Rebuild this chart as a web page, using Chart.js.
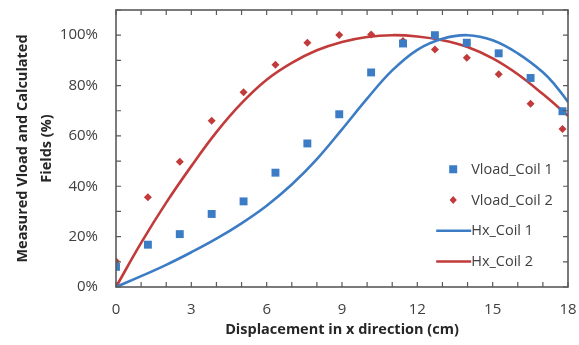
<!DOCTYPE html>
<html>
<head>
<meta charset="utf-8">
<script src="https://cdn.jsdelivr.net/npm/chart.js@4/dist/chart.umd.min.js"></script>
<style>
html,body{margin:0;padding:0;background:#fff;}
#wrap{width:579px;height:345px;position:relative;}
</style>
</head>
<body>
<div id="wrap"><canvas id="c" width="579" height="345"></canvas></div>
<script>
// ---- data ----
const xMeasured = [0, 1.27, 2.54, 3.81, 5.08, 6.35, 7.62, 8.89, 10.16, 11.43, 12.7, 13.97, 15.24, 16.51, 17.78];
const vloadCoil1 = [8, 16.8, 21, 29, 34, 45.4, 57, 68.6, 85.2, 96.7, 100, 97, 92.8, 83, 69.8];
const vloadCoil2 = [10.2, 35.6, 49.7, 66, 77.3, 88.3, 97, 100.1, 100.3, 97.7, 94.3, 91, 84.5, 72.8, 62.7];
const xCalc1 = [0, 1, 2, 3, 4, 5, 6, 7, 8, 9, 10, 11, 12, 13, 14, 15, 16, 17, 17.5, 18];
const hxCoil1 = [0, 4.3, 8.8, 13.8, 19.2, 25.3, 32.3, 40.7, 50.8, 62.6, 74.8, 86, 94.2, 98.6, 100, 98, 92.8, 85.3, 80, 73.5];
const xCalc2 = [0, 1, 2, 3, 4, 5, 6, 7, 8, 9, 10, 11, 12, 13, 14, 15, 16, 17, 18];
const hxCoil2 = [0, 17.5, 33.5, 48, 61.5, 73, 82.3, 89, 94, 97.3, 99.3, 100, 99.5, 98, 95.3, 90.8, 84.5, 76.6, 68];
const seriesNames = ['Vload_Coil 1', 'Vload_Coil 2', 'Hx_Coil 1', 'Hx_Coil 2'];
const xTitle = 'Displacement in x direction (cm)';
const yTitle = ['Measured Vload and Calculated', 'Fields (%)'];

const BLUE = '#3c7cc4';
const RED = '#c23b3b';
const TXT = '#404040';
const FONT = "'Open Sans', 'DejaVu Sans', sans-serif";

const pts = (xs, ys) => xs.map((x, i) => ({x: x, y: ys[i]}));

const frame = {
  id: 'frame',
  afterDatasetsDraw(chart) {
    const {ctx, chartArea: a, scales} = chart;
    ctx.save();
    ctx.strokeStyle = '#5a5a5a';
    ctx.lineWidth = 1.6;
    ctx.strokeRect(a.left, a.top, a.right - a.left, a.bottom - a.top);
    ctx.lineWidth = 1.2;
    const tl = 5;
    ctx.beginPath();
    scales.x.ticks.forEach(t => {
      const px = scales.x.getPixelForValue(t.value);
      ctx.moveTo(px, a.bottom); ctx.lineTo(px, a.bottom - tl);
      ctx.moveTo(px, a.top); ctx.lineTo(px, a.top + tl);
    });
    scales.y.ticks.forEach(t => {
      const py = scales.y.getPixelForValue(t.value);
      ctx.moveTo(a.left, py); ctx.lineTo(a.left + tl, py);
      ctx.moveTo(a.right, py); ctx.lineTo(a.right - tl, py);
    });
    ctx.stroke();

    // legend
    const ds = chart.data.datasets;
    const lx = a.left + (a.right - a.left) * 0.746;
    const tx = lx + 18;
    const y0 = a.top + (a.bottom - a.top) * 0.575;
    const dy = 30.7;
    ctx.font = "14.5px " + FONT;
    ctx.textBaseline = 'middle';
    ctx.textAlign = 'left';
    ds.forEach((d, i) => {
      const y = y0 + i * dy;
      if (d.showLine === false) {
        ctx.fillStyle = d.backgroundColor;
        if (d.pointStyle === 'rect') {
          ctx.fillRect(lx - 4, y - 4, 8, 8);
        } else {
          ctx.beginPath();
          ctx.moveTo(lx, y - 4); ctx.lineTo(lx + 3.6, y); ctx.lineTo(lx, y + 4); ctx.lineTo(lx - 3.6, y); ctx.closePath();
          ctx.fill();
        }
      } else {
        ctx.strokeStyle = d.borderColor;
        ctx.lineWidth = 2.5;
        ctx.beginPath(); ctx.moveTo(lx - 17, y); ctx.lineTo(tx, y); ctx.stroke();
      }
      ctx.fillStyle = TXT;
      ctx.fillText(d.label, tx, y + 0.5);
    });
    ctx.restore();
  }
};

new Chart(document.getElementById('c'), {
  type: 'scatter',
  data: {
    datasets: [
      {label: seriesNames[0], data: pts(xMeasured, vloadCoil1), showLine: false, pointStyle: 'rect', pointRadius: 5.6, backgroundColor: BLUE, borderColor: BLUE, borderWidth: 0, order: 0},
      {label: seriesNames[1], data: pts(xMeasured, vloadCoil2), showLine: false, pointStyle: 'rectRot', pointRadius: 4, backgroundColor: RED, borderColor: RED, borderWidth: 0, order: 0},
      {label: seriesNames[2], data: pts(xCalc1, hxCoil1), showLine: true, pointRadius: 0, borderColor: BLUE, backgroundColor: BLUE, borderWidth: 2.6, tension: 0.4, order: 1},
      {label: seriesNames[3], data: pts(xCalc2, hxCoil2), showLine: true, pointRadius: 0, borderColor: RED, backgroundColor: RED, borderWidth: 2.6, tension: 0.4, order: 1}
    ]
  },
  options: {
    responsive: false,
    animation: false,
    devicePixelRatio: 1,
    layout: {padding: {top: 10, right: 11, left: 0, bottom: 0}},
    plugins: {legend: {display: false}, tooltip: {enabled: false}},
    scales: {
      x: {
        type: 'linear', min: 0, max: 18,
        grid: {display: false, drawTicks: false},
        border: {display: false},
        ticks: {stepSize: 1, padding: 14, color: TXT, font: {family: FONT, size: 15},
          callback: v => (v % 3 === 0 ? String(v) : '')},
        title: {display: true, text: xTitle, color: '#262626', font: {family: FONT, size: 14.5, weight: 'bold', lineHeight: 1.2}, padding: {top: 0, bottom: 6}},
        afterFit: s => { s.height = 58; s.paddingLeft = 0; s.paddingRight = 0; }
      },
      y: {
        type: 'linear', min: 0, max: 110,
        grid: {display: false, drawTicks: false},
        border: {display: false},
        ticks: {stepSize: 10, padding: 18, color: TXT, font: {family: FONT, size: 15},
          callback: v => (v % 20 === 0 && v <= 100 ? v + '%' : '')},
        title: {display: true, text: yTitle, color: '#262626', font: {family: FONT, size: 14.5, weight: 'bold', lineHeight: 1.65}, padding: {top: 11, bottom: 0}},
        afterFit: s => { s.width = 116; s.paddingTop = 0; s.paddingBottom = 0; }
      }
    }
  },
  plugins: [frame]
});
</script>
</body>
</html>
